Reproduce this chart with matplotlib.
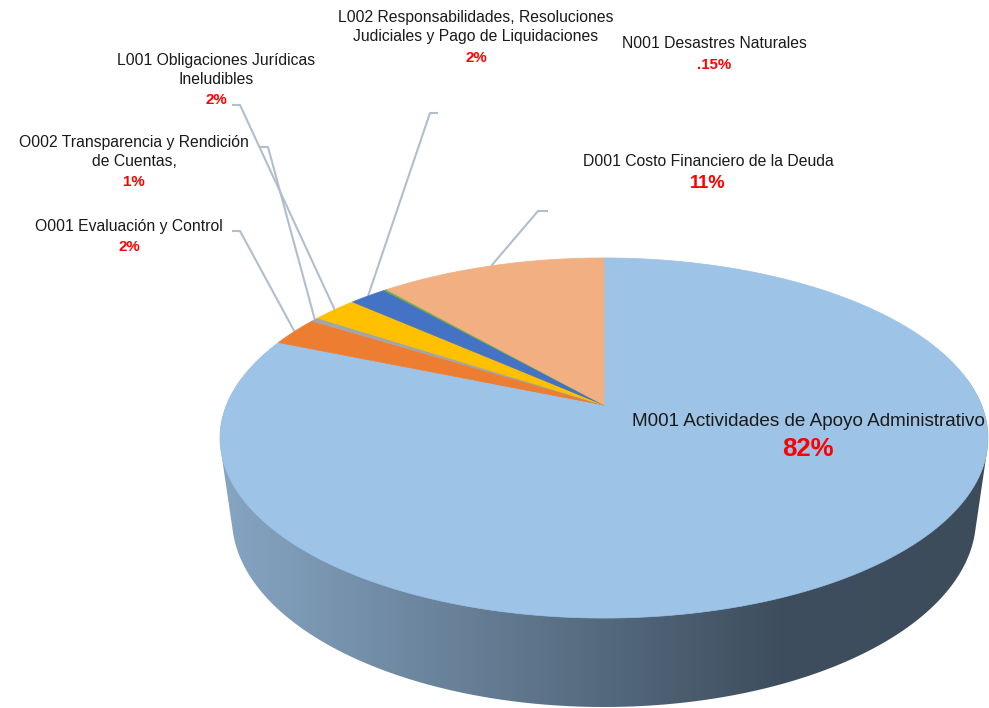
import numpy as np
import matplotlib
matplotlib.use("Agg")
import matplotlib.pyplot as plt
from matplotlib.patches import Polygon
from matplotlib.colors import LinearSegmentedColormap

plt.rcParams['font.family'] = ['Liberation Sans', 'DejaVu Sans']

# programas, en sentido horario desde las 12
nombres = ["M001 Actividades de Apoyo Administrativo",
           "O001 Evaluación y Control",
           "O002 Transparencia y Rendición\nde Cuentas,",
           "L001 Obligaciones Jurídicas\nIneludibles",
           "L002 Responsabilidades, Resoluciones\nJudiciales y Pago de Liquidaciones",
           "N001 Desastres Naturales",
           "D001 Costo Financiero de la Deuda"]
porcentajes = [81.4, 2.6, 0.4, 2.3, 1.9, 0.15, 11.4]
etiquetas_pct = ["82%", "2%", "1%", "2%", "2%", ".15%", "11%"]
colores = ["#9dc3e6", "#ed7d31", "#a5a5a5", "#ffc000", "#4472c4", "#70ad47", "#f2af82"]

# posicion de cada etiqueta: x, y nombre, y porcentaje, tam. nombre, tam. pct
pos_etiquetas = [(808, 422, 449, 13.6, 18.5),
                 (129, 227, 247, 11.3, 10.8),
                 (134, 152, 182, 11.3, 10.8),
                 (216, 70, 100, 11.3, 10.8),
                 (476, 27, 58, 11.3, 10.8),
                 (714, 44, 65, 11.3, 10.8),
                 (708, 161, 184, 11.3, 13.2)]
# lineas guia: x libre, x esquina, y  (None = sin linea)
guias = [None, (232, 240, 231), (260, 268, 147), (232, 240, 105),
         (438, 430, 113), None, (548, 538, 211)]

# pastel 3D en perspectiva (coordenadas en pixeles)
x0, y0 = 604, 405
A, B, k = 377.5, 174.0, 0.1833
p_fondo, c_fondo = 0.031, 82.0


def proyectar(theta, z):
    u, v = np.cos(theta), np.sin(theta)
    d = 1 + k * v + p_fondo * z
    return x0 + A * u / d, y0 - (B * v - c_fondo * z) / d


def casco(pts):
    pts = sorted(set(map(tuple, np.round(pts, 3))))

    def cruz(o, a, b):
        return (a[0] - o[0]) * (b[1] - o[1]) - (a[1] - o[1]) * (b[0] - o[0])
    inf, sup = [], []
    for p in pts:
        while len(inf) >= 2 and cruz(inf[-2], inf[-1], p) <= 0:
            inf.pop()
        inf.append(p)
    for p in reversed(pts):
        while len(sup) >= 2 and cruz(sup[-2], sup[-1], p) <= 0:
            sup.pop()
        sup.append(p)
    return np.array(inf[:-1] + sup[:-1])


fig = plt.figure(figsize=(9.89, 7.08), dpi=100)
ax = fig.add_axes([0, 0, 1, 1])

# costado con degradado
t = np.linspace(0, 2 * np.pi, 720)
arriba = np.column_stack(proyectar(t, 0))
abajo = np.column_stack(proyectar(t, 1))
contorno = casco(np.vstack([arriba, abajo]))
cmap = LinearSegmentedColormap.from_list(
    "lado", [(0, "#87a6c4"), (0.724, "#3e4e5e"), (1, "#3d4c5b")])
grad = np.linspace(0, 1, 256)[None, :]
im = ax.imshow(grad, cmap=cmap, extent=(215, 995, 720, 380), aspect='auto', zorder=1)
clip = Polygon(contorno, closed=True, transform=ax.transData)
im.set_clip_path(clip)

# cara superior
total = sum(porcentajes)
fracs = np.array(porcentajes) / total
inicio = np.pi / 2 - 2 * np.pi * np.concatenate([[0], np.cumsum(fracs)[:-1]])
fin = inicio - 2 * np.pi * fracs
for i in range(len(fracs)):
    ang = np.linspace(inicio[i], fin[i], max(3, int(400 * fracs[i])))
    xs, ys = proyectar(ang, 0)
    xs = np.concatenate([[x0], xs])
    ys = np.concatenate([[y0], ys])
    ax.fill(xs, ys, color=colores[i], lw=0.5, zorder=2)

# lineas guia
for i, g in enumerate(guias):
    if g is None:
        continue
    xe, ye = proyectar((inicio[i] + fin[i]) / 2, 0)
    ax.plot([g[0], g[1], xe], [g[2], g[2], ye], color="#b0bece", lw=1.5,
            zorder=1.5, solid_capstyle='butt')

# etiquetas
for i in range(len(nombres)):
    x, yn, yp, sn, sp = pos_etiquetas[i]
    ax.text(x, yn, nombres[i], ha='center', va='center', fontsize=sn,
            color="#1a1a1a", multialignment='center', linespacing=1.37, zorder=4)
    ax.text(x, yp, etiquetas_pct[i], ha='center', va='center', fontsize=sp,
            color="#ff0000", fontweight='bold', zorder=4)

ax.set_xlim(0, 989)
ax.set_ylim(708, 0)
ax.axis('off')
fig.savefig("out.png", dpi=100)
